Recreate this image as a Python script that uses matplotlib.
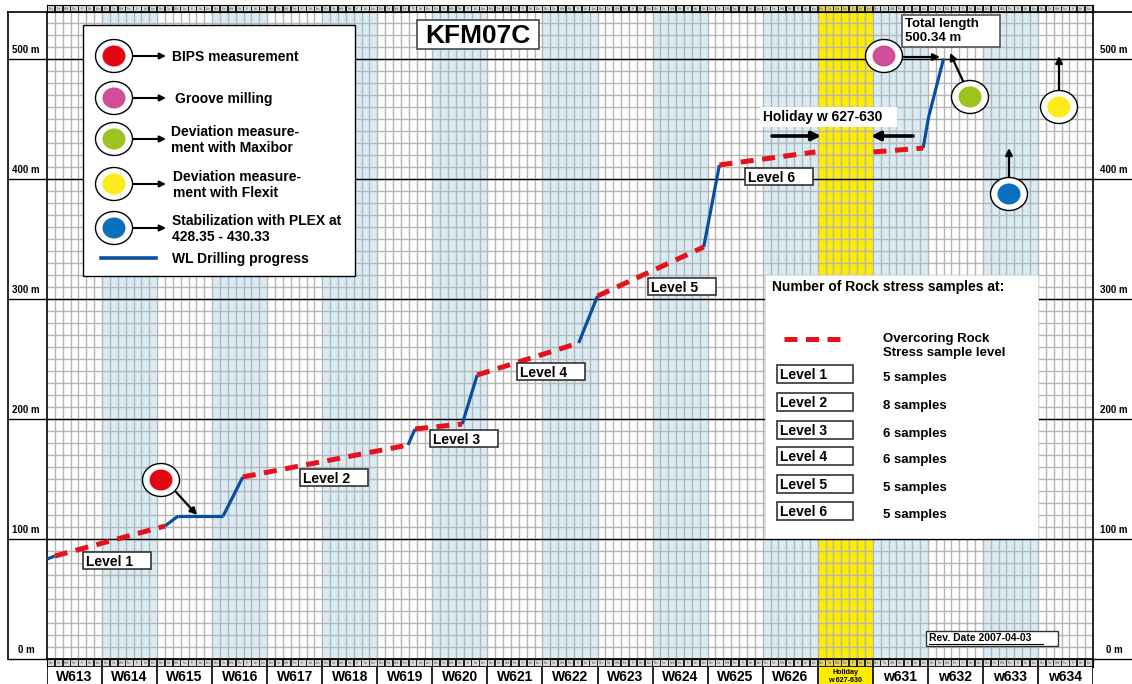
import matplotlib.pyplot as plt
import numpy as np
from matplotlib.patches import Rectangle, Ellipse

plt.rcParams["font.family"] = ["Liberation Sans", "DejaVu Sans"]
plt.rcParams["font.weight"] = "bold"

# ---- data ----
weeks = ["W613", "W614", "W615", "W616", "W617", "W618", "W619", "W620", "W621",
         "W622", "W623", "W624", "W625", "W626", "Holiday\nw 627-630",
         "w631", "w632", "w633", "w634"]
week_fill = ["w", "b", "w", "b", "w", "b", "w", "b", "w", "b", "w", "b", "w", "b",
             "y", "b", "w", "b", "w"]
day_names = ["Mon", "Tue", "Wed", "Thu", "Fri", "Sat", "Sun"]

# drilling path: day since start of W613, depth in m
path_day = [0, 1.0, 15.0, 16.7, 22.4, 24.9, 45.9, 46.8, 52.8, 54.7, 67.6, 70.0,
            83.5, 85.5, 97.7, 105.1, 111.4, 112.1, 114.0]
path_depth = [83.3, 85.8, 110.8, 119.2, 119.2, 151.7, 178.3, 191.7, 195.8, 236.7,
              263.3, 302.5, 343.3, 411.7, 422.5, 422.5, 425.8, 451.7, 500.3]
# kind of each segment: wl = wireline drilling, oc = overcoring, "" = no work
seg_kind = ["wl", "oc", "wl", "wl", "wl", "oc", "wl", "oc", "wl", "oc", "wl", "oc",
            "wl", "oc", "", "oc", "wl", "wl"]

depth_ticks = [0, 100, 200, 300, 400, 500]
levels = ["Level 1", "Level 2", "Level 3", "Level 4", "Level 5", "Level 6"]
samples = [5, 8, 6, 6, 5, 5]

BLUE = "#0a4f9e"
RED = "#e5111d"
SHADE = "#d9ecf6"
YELLOW = "#ffec00"
GRID = "#b5b5b5"

W, H = 1132, 684
n_days = 7 * len(weeks)


def px_rect(x0, y0, x1, y1):
    return [x0 / W, 1 - y1 / H, (x1 - x0) / W, (y1 - y0) / H]


fig = plt.figure(figsize=(W / 100, H / 100), dpi=100)

# ---- main grid axes ----
ax = fig.add_axes(px_rect(47, 12, 1093, 659))
ax.set_xlim(0, n_days)
ax.set_ylim(0, 647 / 1.2)
ax.set_xticks([])
ax.set_yticks([])
for s in ax.spines.values():
    s.set_color("black")
    s.set_linewidth(1.2)

for i, f in enumerate(week_fill):
    if f == "b":
        ax.axvspan(7 * i, 7 * i + 7, color=SHADE, lw=0, zorder=0)
    elif f == "y":
        ax.axvspan(7 * i, 7 * i + 7, color=YELLOW, lw=0, zorder=0)

ax.vlines(np.arange(1, n_days), 0, 540, color=GRID, lw=1.0, zorder=1)
ax.hlines(np.arange(10, 540, 10), 0, n_days, color=GRID, lw=1.0, zorder=1)

left_ext = -39 / 1046
right_ext = 1 + 39 / 1046
for v in depth_ticks:
    ax.axhline(v, left_ext, right_ext, color="black", lw=1.0, clip_on=False, zorder=2)
    ax.text(-21 / 1046, v + 3, f"{v} m", transform=ax.get_yaxis_transform(),
            ha="center", va="bottom", fontsize=7, fontweight="bold")
    ax.text(1 + 21 / 1046, v + 3, f"{v} m", transform=ax.get_yaxis_transform(),
            ha="center", va="bottom", fontsize=7, fontweight="bold")
ax.axhline(ax.get_ylim()[1], left_ext, right_ext, color="black", lw=1.2, clip_on=False)

for k in range(len(seg_kind)):
    xs = path_day[k:k + 2]
    ys = path_depth[k:k + 2]
    if seg_kind[k] == "wl":
        ax.plot(xs, ys, color=BLUE, lw=2.3, solid_capstyle="butt", zorder=5)
    elif seg_kind[k] == "oc":
        ax.plot(xs, ys, color=RED, lw=3.6, dashes=(2.6, 1.7), dash_capstyle="butt", zorder=6)

# ---- day strips (top and bottom) ----
for rect in (px_rect(47, 5, 1093, 12), px_rect(47, 659, 1093, 667)):
    sa = fig.add_axes(rect)
    sa.set_xlim(0, n_days)
    sa.set_ylim(0, 1)
    sa.set_facecolor("#202020")
    sa.set_xticks([])
    sa.set_yticks([])
    for d in range(n_days):
        fc = "#e6d35a" if week_fill[d // 7] == "y" else "#d9d9d9"
        sa.add_patch(Rectangle((d + 0.1, 0.18), 0.8, 0.64, color=fc, lw=0))
        sa.text(d + 0.5, 0.5, day_names[d % 7], fontsize=1.8, ha="center", va="center",
                color="#555555", fontweight="normal")

# ---- week labels ----
wa = fig.add_axes(px_rect(47, 667, 1093, 684))
wa.set_xlim(0, n_days)
wa.set_ylim(0, 1)
wa.set_xticks([])
wa.set_yticks([])
for s in wa.spines.values():
    s.set_visible(False)
for i, name in enumerate(weeks):
    if week_fill[i] == "y":
        wa.add_patch(Rectangle((7 * i, 0), 7, 1, color=YELLOW, lw=0))
        wa.text(7 * i + 3.5, 0.45, name, ha="center", va="center", fontsize=5.2,
                linespacing=1.1)
    else:
        wa.text(7 * i + 3.5, 0.42, name, ha="center", va="center", fontsize=10)
    wa.axvline(7 * i, color="black", lw=1.2)
wa.axvline(n_days, color="black", lw=1.2)

# ---- overlay in pixel coordinates for annotations ----
ov = fig.add_axes([0, 0, 1, 1], zorder=10)
ov.set_xlim(0, W)
ov.set_ylim(H, 0)
ov.axis("off")
ov.patch.set_alpha(0)

# frame lines on the left margin
ov.plot([8, 8], [12, 659], color="black", lw=1.2)


def box(x0, y0, x1, y1, ec="black", lw=1.0, fc="white"):
    ov.add_patch(Rectangle((x0, y0), x1 - x0, y1 - y0, fc=fc, ec=ec, lw=lw, zorder=3))


def marker(cx, cy, color):
    ov.add_patch(Ellipse((cx, cy), 37, 33, fc="white", ec="black", lw=1.0, zorder=4))
    ov.add_patch(Ellipse((cx, cy), 23, 21, fc=color, ec="none", zorder=5))


def arrow(x0, y0, x1, y1, lw=1.6, ms=10):
    ov.annotate("", xy=(x1, y1), xytext=(x0, y0),
                arrowprops=dict(arrowstyle="-|>", color="black", lw=lw,
                                mutation_scale=ms, shrinkA=0, shrinkB=0), zorder=6)


# title
box(417, 20, 539, 49, ec="#555555", lw=1.3)
ov.text(478, 36, "KFM07C", ha="center", va="center", fontsize=19, zorder=6)

# legend
box(83, 25, 355, 276, ec="black", lw=1.0)
leg_colors = ["#e30613", "#d24d98", "#9cc31e", "#ffeb1a", "#0a6fbd"]
leg_texts = ["BIPS measurement", "Groove milling", "Deviation measure-\nment with Maxibor",
             "Deviation measure-\nment with Flexit", "Stabilization with PLEX at\n428.35 - 430.33"]
leg_y = [56, 98, 139, 184, 228]
leg_tx = [172, 175, 171, 173, 172]
for c, t, y, tx in zip(leg_colors, leg_texts, leg_y, leg_tx):
    marker(114, y, c)
    arrow(133, y, 166, y, lw=1.5, ms=9)
    ov.text(tx, y + 1, t, ha="left", va="center", fontsize=10, linespacing=1.15, zorder=6)
ov.plot([101, 156], [258, 258], color=BLUE, lw=2.6, zorder=6)
ov.text(172, 259, "WL Drilling progress", ha="left", va="center", fontsize=10, zorder=6)

# level labels on the chart
level_pos = [(83, 552), (300, 469), (430, 430), (517, 363), (648, 278), (745, 168)]
for name, (x, y) in zip(levels, level_pos):
    box(x, y, x + 68, y + 17, ec="#333333", lw=1.2)
    ov.text(x + 3, y + 10, name, ha="left", va="center", fontsize=10, zorder=6)

# samples table
box(765, 275, 1038, 538, ec="#dddddd", lw=0.6)
ov.text(772, 287, "Number of Rock stress samples at:", ha="left", va="center",
        fontsize=10, zorder=6)
ov.plot([784, 845], [339, 339], color=RED, lw=3.6, dashes=(2.6, 1.7),
        dash_capstyle="butt", zorder=6)
ov.text(883, 346, "Overcoring Rock\nStress sample level", ha="left", va="center",
        fontsize=9.5, linespacing=1.2, zorder=6)
table_y = [365, 393, 421, 447, 475, 502]
for name, n, y in zip(levels, samples, table_y):
    box(777, y, 853, y + 18, ec="#333333", lw=1.2)
    ov.text(780, y + 10, name, ha="left", va="center", fontsize=10, zorder=6)
    ov.text(883, y + 13, f"{n} samples", ha="left", va="center", fontsize=9.5, zorder=6)

# event markers
marker(161, 480, "#e30613")
arrow(176, 492, 197, 515)
marker(884, 56, "#d24d98")
arrow(904, 57, 940, 57)
marker(970, 97, "#9cc31e")
arrow(963, 81, 950, 53)
marker(1059, 107, "#ffeb1a")
arrow(1059, 90, 1059, 56)
marker(1009, 194, "#0a6fbd")
arrow(1009, 177, 1009, 148)

box(902, 15, 1000, 47, ec="#555555", lw=1.2)
ov.text(905, 31, "Total length\n500.34 m", ha="left", va="center", fontsize=9.5,
        linespacing=1.15, zorder=6)

# holiday note
box(760, 107, 897, 127, ec="none")
ov.text(763, 117, "Holiday w 627-630", ha="left", va="center", fontsize=10, zorder=6)
arrow(772, 136, 821, 136, lw=2.6, ms=13)
arrow(913, 136, 871, 136, lw=2.6, ms=13)

# revision date
box(926, 631, 1058, 646, ec="#333333", lw=1.0)
ov.text(929, 638, "Rev. Date 2007-04-03", ha="left", va="center", fontsize=7.5, zorder=6)
ov.plot([929, 1043], [644, 644], color="black", lw=0.8, zorder=6)

fig.savefig("out.png", dpi=100)
